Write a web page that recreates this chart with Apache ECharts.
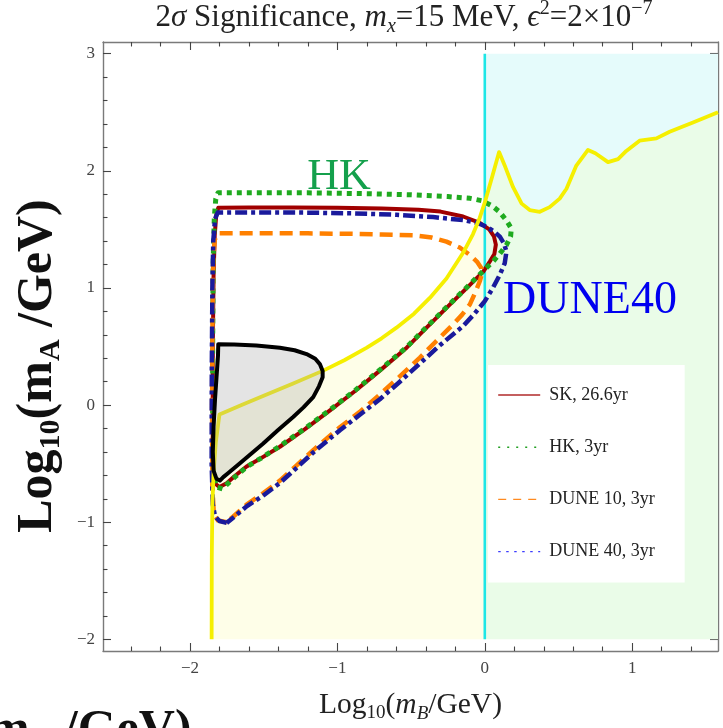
<!DOCTYPE html>
<html><head><meta charset="utf-8">
<script src="https://cdn.jsdelivr.net/npm/echarts@6/dist/echarts.min.js"></script>
<style>html,body{margin:0;padding:0;background:#fff}#c{width:723px;height:728px}</style>
</head><body><div id="c"></div>
<script>
// ---------- data ----------
const X_MIN = -2.59, X_MAX = 1.582, Y_MIN = -2.1, Y_MAX = 3.1;
const xMajorTicks = [-2, -1, 0, 1];
const xMinorTicks = [-2.4,-2.2,-1.8,-1.6,-1.4,-1.2,-0.8,-0.6,-0.4,-0.2,0.2,0.4,0.6,0.8,1.2,1.4];
const yMajorTicks = [-2, -1, 0, 1, 2, 3];
const yMinorTicks = [-1.8,-1.6,-1.4,-1.2,-0.8,-0.6,-0.4,-0.2,0.2,0.4,0.6,0.8,1.2,1.4,1.6,1.8,2.2,2.4,2.6,2.8];
const legendNames = ['SK, 26.6yr', 'HK, 3yr', 'DUNE 10, 3yr', 'DUNE 40, 3yr'];

const yellowBoundary = [
  [-1.853,-2.0],[-1.852,-1.3],[-1.848,-0.85],[-1.840,-0.58],[-1.825,-0.32],[-1.80,-0.08],
  [-1.65,0.0],[-1.5,0.08],[-1.3,0.185],[-1.096,0.294],[-0.95,0.385],[-0.80,0.49],[-0.70,0.57],
  [-0.599,0.661],[-0.48,0.78],[-0.373,0.915],[-0.26,1.08],[-0.147,1.30],[-0.08,1.46],[-0.034,1.60],
  [0.0,1.73],[0.05,1.95],[0.097,2.16],[0.14,2.03],[0.192,1.86],[0.25,1.72],[0.305,1.665],[0.373,1.65],
  [0.44,1.69],[0.508,1.763],[0.554,1.847],[0.621,2.045],[0.70,2.178],[0.75,2.15],[0.836,2.074],
  [0.904,2.10],[0.96,2.17],[1.05,2.257],[1.164,2.277],[1.254,2.333],[1.412,2.412],[1.582,2.50]
];
const cyanLine = [[0,-2],[0,3]];

const skContour = [
  [-1.80,-0.70],[-1.83,-0.67],[-1.843,-0.55],[-1.846,-0.2],[-1.845,0.5],[-1.84,1.1],[-1.832,1.45],
  [-1.822,1.62],[-1.808,1.684],[-1.6,1.686],[-1.3,1.687],[-1.0,1.685],[-0.7,1.678],[-0.45,1.668],
  [-0.30,1.652],[-0.147,1.61],[-0.034,1.555],[0.03,1.50],[0.062,1.44],[0.075,1.37],[0.065,1.29],
  [0.034,1.226],[-0.01,1.14],[-0.13,0.99],[-0.26,0.83],[-0.40,0.655],[-0.53,0.49],[-0.712,0.294],
  [-0.88,0.12],[-1.05,-0.045],[-1.22,-0.205],[-1.39,-0.356],[-1.52,-0.455],[-1.616,-0.525],
  [-1.70,-0.61],[-1.751,-0.667],[-1.80,-0.70]
];
const hkContour = [
  [-1.78,-0.715],[-1.82,-0.70],[-1.840,-0.60],[-1.846,-0.3],[-1.846,0.5],[-1.843,1.2],[-1.835,1.6],
  [-1.825,1.76],[-1.81,1.812],[-1.6,1.813],[-1.2,1.812],[-0.8,1.805],[-0.5,1.795],[-0.25,1.78],
  [-0.1,1.765],[-0.02,1.745],[0.05,1.70],[0.10,1.65],[0.15,1.57],[0.18,1.508],[0.175,1.44],
  [0.147,1.367],[0.10,1.29],[0.056,1.226],[-0.011,1.145],[-0.13,0.995],[-0.26,0.835],[-0.40,0.66],
  [-0.53,0.495],[-0.712,0.30],[-0.88,0.125],[-1.05,-0.04],[-1.22,-0.20],[-1.39,-0.35],[-1.52,-0.455],
  [-1.616,-0.528],[-1.70,-0.62],[-1.751,-0.68],[-1.78,-0.715]
];
const dune10Contour = [
  [-1.75,-1.00],[-1.81,-0.985],[-1.838,-0.93],[-1.848,-0.7],[-1.85,0.0],[-1.847,0.8],[-1.842,1.25],
  [-1.832,1.41],[-1.812,1.466],[-1.5,1.467],[-1.2,1.466],[-0.9,1.462],[-0.7,1.457],[-0.486,1.45],
  [-0.36,1.43],[-0.26,1.395],[-0.17,1.345],[-0.102,1.282],[-0.05,1.22],[-0.023,1.169],[-0.022,1.11],
  [-0.034,1.057],[-0.065,0.96],[-0.102,0.858],[-0.155,0.77],[-0.215,0.689],[-0.33,0.545],[-0.44,0.405],
  [-0.58,0.24],[-0.712,0.09],[-0.85,-0.06],[-0.983,-0.19],[-1.164,-0.385],[-1.28,-0.52],[-1.39,-0.645],
  [-1.50,-0.75],[-1.616,-0.85],[-1.70,-0.945],[-1.75,-1.00]
];
const dune40Contour = [
  [-1.751,-1.006],[-1.80,-0.99],[-1.83,-0.95],[-1.845,-0.85],[-1.853,-0.5],[-1.852,0.3],[-1.848,1.0],
  [-1.842,1.4],[-1.83,1.59],[-1.812,1.644],[-1.5,1.645],[-1.2,1.643],[-0.9,1.637],[-0.6,1.625],
  [-0.35,1.605],[-0.147,1.579],[-0.05,1.555],[0.011,1.523],[0.06,1.485],[0.102,1.438],[0.13,1.38],
  [0.147,1.311],[0.135,1.21],[0.102,1.113],[0.055,1.0],[0.0,0.887],[-0.07,0.78],[-0.147,0.675],
  [-0.305,0.51],[-0.44,0.355],[-0.58,0.195],[-0.712,0.05],[-0.85,-0.085],[-0.983,-0.215],
  [-1.164,-0.405],[-1.28,-0.54],[-1.39,-0.665],[-1.50,-0.77],[-1.616,-0.865],[-1.70,-0.955],[-1.751,-1.006]
];
const blackContour = [
  [-1.808,0.52],[-1.70,0.517],[-1.55,0.508],[-1.39,0.49],[-1.29,0.468],[-1.209,0.435],[-1.15,0.395],
  [-1.119,0.35],[-1.10,0.29],[-1.10,0.237],[-1.125,0.16],[-1.164,0.068],[-1.23,-0.02],[-1.3,-0.102],
  [-1.40,-0.21],[-1.503,-0.328],[-1.661,-0.497],[-1.74,-0.58],[-1.774,-0.615],[-1.797,-0.645],
  [-1.82,-0.63],[-1.84,-0.56],[-1.845,-0.4],[-1.84,-0.186],[-1.83,0.05],[-1.82,0.237],[-1.81,0.42]
];

// ---------- derived regions ----------
const leftPart = yellowBoundary.filter(p => p[0] <= 0);
const rightPart = yellowBoundary.filter(p => p[0] >= 0);
const yellowRegion = [...leftPart, [0, -2]];
const greenRegion = [[0, -2], ...rightPart, [X_MAX, -2]];
const cyanRegion = [[0, 3], ...rightPart, [X_MAX, 3]];

const SERIF = "'Liberation Serif','Times New Roman',serif";
const minus = v => String(v).replace('-', '\u2212');

function polygonSeries(pts, style, z) {
  return {
    type: 'custom', coordinateSystem: 'cartesian2d', silent: true, z: z || 1,
    data: [[0, 0]], clip: true,
    renderItem: (params, api) => ({
      type: 'polygon',
      shape: { points: pts.map(p => api.coord(p)) },
      style: style
    })
  };
}
function curve(name, pts, color, width, type, z) {
  return {
    type: 'line', name: name, data: pts, symbol: 'none', showSymbol: false, silent: true, z: z || 2,
    lineStyle: { color: color, width: width, type: type, cap: 'butt', join: 'round' },
    itemStyle: { color: color }
  };
}
const axisColor = '#7a7a7a';
function xAx(pos, ticks, len, showLine, labels) {
  return {
    type: 'value', position: pos, min: X_MIN, max: X_MAX,
    axisLine: { show: showLine, onZero: false, lineStyle: { color: axisColor, width: 1.4 } },
    axisTick: { show: true, inside: true, length: len, customValues: ticks, lineStyle: { color: '#444', width: 1.1 } },
    axisLabel: labels ? { show: true, customValues: ticks, formatter: minus, margin: 9,
      fontFamily: SERIF, fontSize: 17, color: '#444' } : { show: false },
    splitLine: { show: false }
  };
}
function yAx(pos, ticks, len, showLine, labels) {
  return {
    type: 'value', position: pos, min: Y_MIN, max: Y_MAX,
    axisLine: { show: showLine, onZero: false, lineStyle: { color: axisColor, width: 1.4 } },
    axisTick: { show: true, inside: true, length: len, customValues: ticks, lineStyle: { color: '#444', width: 1.1 } },
    axisLabel: labels ? { show: true, customValues: ticks, formatter: minus, margin: 8,
      fontFamily: SERIF, fontSize: 17, color: '#444' } : { show: false },
    splitLine: { show: false }
  };
}

const xAxes = [xAx('bottom', xMajorTicks, 8, true, true), xAx('bottom', xMinorTicks, 4.5, false, false),
               xAx('top', xMajorTicks, 8, true, false), xAx('top', xMinorTicks, 4.5, false, false)];
xAxes[0].name = '{n|Log}{s|10}{n|(}{i|m}{si|B}{n|/GeV)}';
xAxes[0].nameLocation = 'middle';
xAxes[0].nameGap = 37;
xAxes[0].nameTextStyle = { rich: {
  n: { fontFamily: SERIF, fontSize: 29.5, color: '#222', lineHeight: 35, verticalAlign: 'middle' },
  i: { fontFamily: SERIF, fontSize: 29.5, color: '#222', fontStyle: 'italic', lineHeight: 35, verticalAlign: 'middle' },
  s: { fontFamily: SERIF, fontSize: 19, color: '#222', lineHeight: 16, verticalAlign: 'bottom' },
  si: { fontFamily: SERIF, fontSize: 19, color: '#222', fontStyle: 'italic', lineHeight: 16, verticalAlign: 'bottom' }
}};
const yAxes = [yAx('left', yMajorTicks, 8, true, true), yAx('left', yMinorTicks, 4.5, false, false),
               yAx('right', yMajorTicks, 8, true, false), yAx('right', yMinorTicks, 4.5, false, false)];

const tN = { fontFamily: SERIF, fontSize: 31, fontWeight: 'normal', fill: '#222', lineHeight: 38, verticalAlign: 'middle' };
const option = {
  animation: false,
  backgroundColor: '#fff',
  grid: { left: 103, right: 5, top: 42, bottom: 72, containLabel: false },
  legend: {
    orient: 'vertical', left: 488, top: 365, selectedMode: false,
    backgroundColor: '#fff', padding: [21, 30, 22, 9.5],
    itemGap: 34.2, itemWidth: 42, itemHeight: 18,
    itemStyle: { color: 'rgba(0,0,0,0)', borderColor: 'rgba(0,0,0,0)', borderWidth: 0, opacity: 0 },
    textStyle: { fontFamily: SERIF, fontSize: 18, color: '#222', padding: [0, 0, 0, 4] },
    data: [
      { name: legendNames[0], lineStyle: { width: 1.4, type: 'solid', color: '#b02a2a' } },
      { name: legendNames[1], lineStyle: { width: 1.4, type: [2, 7], color: '#22a022' } },
      { name: legendNames[2], lineStyle: { width: 1.4, type: [8, 7], color: '#ff8a20' } },
      { name: legendNames[3], lineStyle: { width: 1.4, type: [2.5, 5.5], color: '#3c3cff' } }
    ]
  },
  xAxis: xAxes,
  yAxis: yAxes,
  graphic: [
    { type: 'text', x: 404, y: 18, silent: true,
      style: { text: '{n|2}{i|\u03c3}{n| Significance, }{i|m}{sub|x}{n|=15 MeV, }{i|\u03f5}{sup|2}{n|=2\u00d710}{sup|\u22127}',
        align: 'center', verticalAlign: 'middle',
        rich: {
          n: tN,
          i: Object.assign({}, tN, { fontStyle: 'italic' }),
          sub: { fontFamily: SERIF, fontSize: 20, fontWeight: 'normal', fill: '#222', fontStyle: 'italic', lineHeight: 17, verticalAlign: 'bottom' },
          sup: { fontFamily: SERIF, fontSize: 20, fontWeight: 'normal', fill: '#222', lineHeight: 19, verticalAlign: 'top' }
        } } },
    { type: 'text', x: 38, y: 366, rotation: Math.PI / 2, silent: true,
      style: { text: '{b|Log}{s|10}{b|(m}{s|A}{b| /GeV)}', align: 'center', verticalAlign: 'middle',
        rich: {
          b: { fontFamily: SERIF, fontWeight: 'bold', fontSize: 50, fill: '#111', lineHeight: 56, verticalAlign: 'middle' },
          s: { fontFamily: SERIF, fontWeight: 'bold', fontSize: 30, fill: '#111', lineHeight: 20, verticalAlign: 'bottom' }
        } } },
    { type: 'text', x: -12, y: 731, silent: true,
      style: { text: '{b|m}{s|A}{b| /GeV)}', align: 'left', verticalAlign: 'middle',
        rich: {
          b: { fontFamily: SERIF, fontWeight: 'bold', fontSize: 50, fill: '#111', lineHeight: 56, verticalAlign: 'middle' },
          s: { fontFamily: SERIF, fontWeight: 'bold', fontSize: 30, fill: '#111', lineHeight: 20, verticalAlign: 'bottom' }
        } } },
    { type: 'text', x: 339, y: 177, silent: true, z: 10,
      style: { text: 'HK', fontFamily: SERIF, fontSize: 44, fill: '#14a04c', align: 'center', verticalAlign: 'middle' } },
    { type: 'text', x: 590, y: 301, silent: true, z: 10,
      style: { text: 'DUNE40', fontFamily: SERIF, fontSize: 46, fill: '#0000f0', align: 'center', verticalAlign: 'middle' } }
  ],
  series: [
    polygonSeries(yellowRegion, { fill: '#fefee8' }, 1),
    polygonSeries(greenRegion, { fill: '#eafce8' }, 1),
    polygonSeries(cyanRegion, { fill: '#e5fbfb' }, 1),
    curve('cyan', cyanLine, '#1ee6e6', 2.6, 'solid', 2),
    curve(legendNames[0], skContour, '#a00000', 4, 'solid', 3),
    curve(legendNames[1], hkContour, '#1faa1f', 5, [5, 5], 3),
    curve(legendNames[2], dune10Contour, '#ff8000', 4.5, [13, 7], 3),
    curve(legendNames[3], dune40Contour, '#1a1a9c', 4.5, [12, 4, 4, 4], 3),
    curve('yellow', yellowBoundary, '#f5ef00', 3.8, 'solid', 4),
    polygonSeries(blackContour, { fill: 'rgba(170,170,170,0.32)', stroke: '#000', lineWidth: 4, lineJoin: 'round' }, 5)
  ]
};
const chart = echarts.init(document.getElementById('c'), null, { renderer: 'canvas' });
chart.setOption(option);
</script></body></html>
